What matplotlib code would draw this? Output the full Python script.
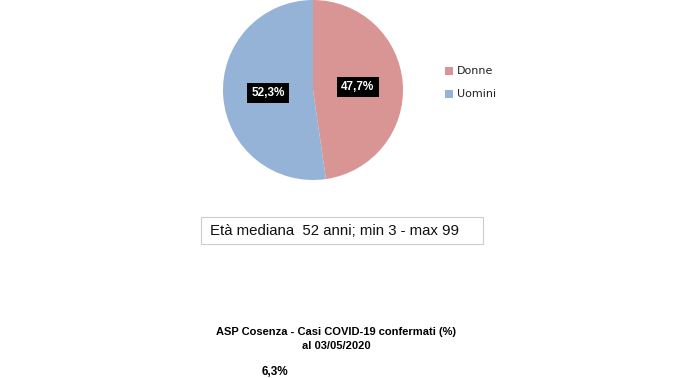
import matplotlib
matplotlib.use("Agg")
import matplotlib.pyplot as plt
from matplotlib.patches import Rectangle

# dati del grafico
categorie = ['Donne', 'Uomini']
percentuali = [47.7, 52.3]
colori = ['#D99594', '#95B3D7']
nota_eta = 'Età mediana  52 anni; min 3 - max 99'
titolo = 'ASP Cosenza - Casi COVID-19 confermati (%)\nal 03/05/2020'
valore_extra = '6,3%'

W, H = 673, 378
fig = plt.figure(figsize=(W / 100, H / 100), dpi=100)
fig.patch.set_facecolor('white')


def px(x, y):
    # coordinate in pixel -> frazioni della figura
    return x / W, 1 - y / H


# torta
ax = fig.add_axes([223 / W, 1 - 180 / H, 180 / W, 180 / H])
spicchi, _, etichette = ax.pie(
    percentuali, colors=colori, startangle=90, counterclock=False,
    autopct=lambda p: f'{p:.1f}%'.replace('.', ','), pctdistance=0.5,
    wedgeprops={'linewidth': 0},
    textprops={'color': 'white', 'fontsize': 8.5, 'fontweight': 'bold',
               'family': 'Liberation Sans'})
for t in etichette:
    t.set_bbox(dict(facecolor='black', edgecolor='none', pad=3))
ax.set_xlim(-1, 1)
ax.set_ylim(-1, 1)
ax.set_aspect('equal')

# legenda
for i, (nome, col) in enumerate(zip(categorie, colori)):
    x0, y0 = px(445, 71 + i * 23)
    fig.patches.append(Rectangle((x0, y0 - 4 / H), 8 / W, 8 / H,
                                 transform=fig.transFigure, facecolor=col,
                                 edgecolor='none'))
    fig.text(x0 + 12 / W, y0, nome, fontsize=8, va='center', ha='left',
             color='#222222')

# riquadro età mediana
bx0, by0 = px(201, 244)
fig.patches.append(Rectangle((bx0, by0), 282 / W, 27 / H,
                             transform=fig.transFigure, facecolor='white',
                             edgecolor='#cccccc', linewidth=0.8))
fig.text(*px(210, 231), nota_eta, fontsize=10.8, va='center', ha='left',
         family='Liberation Sans', color='#111111')

# titolo in basso
fig.text(*px(336, 339), titolo, fontsize=8, fontweight='bold', va='center',
         ha='center', family='Liberation Sans', linespacing=1.45)
fig.text(*px(275, 372), valore_extra, fontsize=8.5, fontweight='bold',
         va='center', ha='center', family='Liberation Sans')

fig.savefig('out.png', dpi=100)
